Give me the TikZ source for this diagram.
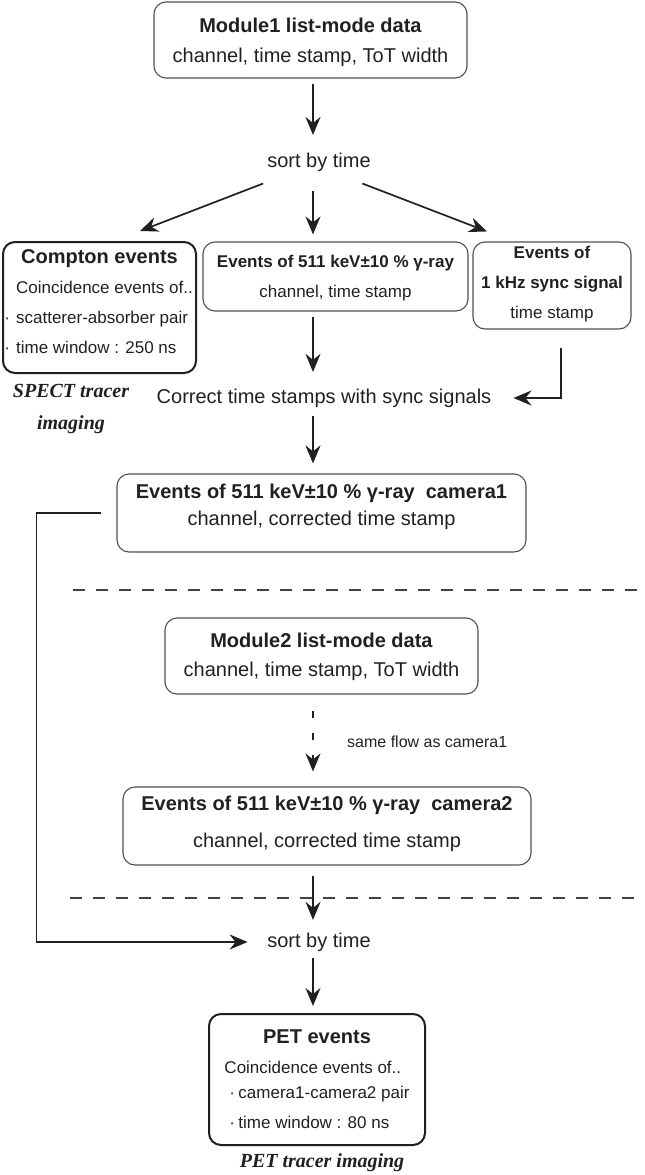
\documentclass[tikz,border=0pt]{standalone}
\usepackage{fontspec}
\setmainfont{Liberation Sans}
\newfontfamily\tracerfont{Liberation Serif}
\usepackage{tikz}
\usetikzlibrary{calc}
\usetikzlibrary{arrows.meta}

\definecolor{inkc}{HTML}{231F20}
\definecolor{boxc}{HTML}{505050}
\newcommand{\fsz}[2]{\fontsize{#1}{#2}\selectfont}
\newcommand{\dstrut}[1]{\rule[-#1]{0pt}{#1}}
\newcommand{\hstrut}[1]{\rule{0pt}{#1}}

\begin{document}
\begin{tikzpicture}[x=1pt,y=-1pt]
			\tikzstyle{every node}=[text=inkc, inner sep=0pt]
			\tikzstyle{evbox}=[draw=boxc, line width=1.1pt, rounded corners=12pt, align=center]
			\tikzstyle{pairbox}=[draw=inkc, line width=2pt, rounded corners=12pt]
			\tikzstyle{flowarrow}=[-{Stealth[length=18pt,width=15pt,inset=6pt]}, line width=1.7pt, draw=inkc]
			\tikzstyle{sepline}=[draw=inkc!85, line width=1.6pt, dash pattern=on 12pt off 11pt]
			
			\useasboundingbox (0,0) rectangle (645,1175);
			\coordinate (col) at (313,0);
			
			% camera1 flow
			\node[evbox, minimum width=313pt, minimum height=76pt, font=\fsz{20}{30}] (mod1) at (310.5,40)
			{\hstrut{20pt}\textbf{Module1 list-mode data}\\channel, time stamp, ToT width};
			\node[font=\fsz{20}{24}] (sort1) at (319,162) {sort by time};
			
			\node[pairbox, minimum width=193pt, minimum height=131pt, font=\fsz{17}{30}] (compton) at (99.5,307.5)
			{\begin{tabular}{@{\hspace{10pt}}l@{}}
				\multicolumn{1}{c}{\fsz{20}{30}\bfseries Compton events}\\
				Coincidence events of..\\
				\llap{·\hspace{6pt}}scatterer-absorber pair\\
				\llap{·\hspace{6pt}}time window : 250 ns\dstrut{20pt}
			\end{tabular}};
			\node[evbox, minimum width=265pt, minimum height=69pt, font=\fsz{17}{30}] (ev511) at (335.5,276.5)
			{\hstrut{15pt}\textbf{Events of 511 keV±10 \% γ-ray}\\channel, time stamp};
			\node[evbox, minimum width=158pt, minimum height=87pt, font=\fsz{17}{30}] (sync) at (552,285.5)
			{\textbf{Events of}\\\textbf{1 kHz sync signal}\\time stamp\dstrut{5.5pt}};
			
			\node[font=\fsz{20}{32}\tracerfont\bfseries\itshape, align=center] (spect) at (71,409) {SPECT tracer\\imaging};
			\node[font=\fsz{20}{24}] (corr) at (324,398) {Correct time stamps with sync signals};
			
			\node[evbox, minimum width=409pt, minimum height=78pt, font=\fsz{20}{27}] (cam1) at (321.5,513)
			{\textbf{Events of 511 keV±10 \% γ-ray\ \ camera1}\\channel, corrected time stamp\dstrut{15.6pt}};
			
			% camera2 flow
			\node[evbox, minimum width=313pt, minimum height=76pt, font=\fsz{20}{29}] (mod2) at (321.5,656)
			{\hstrut{15.5pt}\textbf{Module2 list-mode data}\\channel, time stamp, ToT width};
			\node[font=\fsz{16}{19}, anchor=west] (sameflow) at (347,742) {same flow as camera1};
			\node[evbox, minimum width=408pt, minimum height=78pt, font=\fsz{20}{37}] (cam2) at (327,826)
			{\textbf{Events of 511 keV±10 \% γ-ray\ \ camera2}\\channel, corrected time stamp\dstrut{7.6pt}};
			
			% coincidence of both cameras
			\node[font=\fsz{20}{24}] (sort2) at (319,942) {sort by time};
			\node[pairbox, minimum width=216pt, minimum height=131pt, font=\fsz{17}{30}] (pet) at (317,1079.5)
			{\begin{tabular}{@{}l@{}}
				\multicolumn{1}{c}{\fsz{20}{30}\bfseries PET events}\\
				Coincidence events of..\\[-5pt]
				\hspace*{5pt}\makebox[9pt][l]{·}camera1-camera2 pair\\
				\hspace*{5pt}\makebox[9pt][l]{·}time window : 80 ns
			\end{tabular}};
			\node[font=\fsz{20}{24}\tracerfont\bfseries\itshape] (pettxt) at (322,1163) {PET tracer imaging};
			
			\draw[sepline] (73,590) -- (645,590);
			\draw[sepline] (70,898) -- (645,898);
			
			\draw[flowarrow, shorten <=5pt, shorten >=17.5pt] (mod1.south -| col) -- (sort1.north -| col);
			\draw[flowarrow] ($(sort1.south west)+(-4,12)$) -- ($(compton.north)+(40.5,-10)$);
			\draw[flowarrow, shorten <=19.5pt, shorten >=7pt] (sort1.south -| col) -- (ev511.north -| col);
			\draw[flowarrow] ($(sort1.south east)+(-8.5,12)$) -- ($(sync.north)+(-65,-10)$);
			\draw[flowarrow, shorten <=5pt, shorten >=16.6pt] (ev511.south -| col) -- (corr.north -| col);
			\draw[flowarrow, shorten >=22pt] ($(sync.south)+(9,18)$) |- (corr.east);
			\draw[flowarrow, shorten <=8.6pt, shorten >=10pt] (corr.south -| col) -- (cam1.north -| col);
			\draw[flowarrow, shorten >=19.5pt] ($(cam1.west)+(-15,0)$) -- ++(-65,0) |- (sort2.west);
			
			\draw[flowarrow, line width=1.4pt, dash pattern=on 7pt off 15pt, shorten <=16pt, shorten >=15pt] (mod2.south -| col) -- (cam2.north -| col);
			\draw[flowarrow, shorten <=10pt, shorten >=12.6pt] (cam2.south -| col) -- (sort2.north -| col);
			\draw[flowarrow, shorten <=6.6pt, shorten >=7pt] (sort2.south -| col) -- (pet.north -| col);
			
\end{tikzpicture}
\end{document}
